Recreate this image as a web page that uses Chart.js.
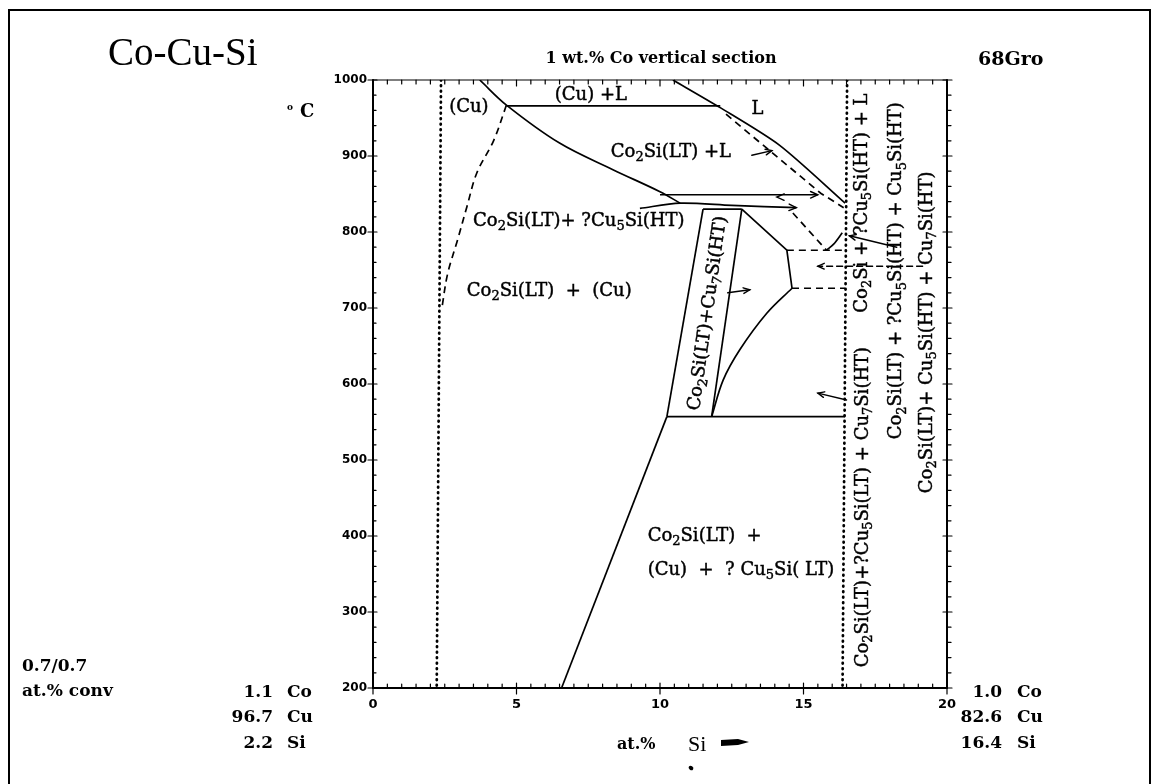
<!DOCTYPE html>
<html>
<head>
<meta charset="utf-8">
<script src="https://cdn.jsdelivr.net/npm/chart.js@4.4.1/dist/chart.umd.min.js"></script>
<style>
  html, body { margin: 0; padding: 0; background: #fff; }
  #wrap { width: 1161px; height: 784px; position: relative; }
</style>
</head>
<body>
<div id="wrap"><canvas id="c"></canvas></div>
<script>
// ---- axes ----
const tempTicks = [200, 300, 400, 500, 600, 700, 800, 900, 1000];   // °C
const siTicks = [0, 5, 10, 15, 20];                                 // at.% Si

// ---- phase boundaries, points are [at.% Si, °C] ----
const cuLiquidus   = [[3.72, 1000], [4.65, 967], [6.5, 917], [8.36, 882], [10.0, 853], [10.7, 838]];
const cuLTie       = [[4.65, 966], [12.1, 966]];
const liquidus     = [[10.45, 1000], [12.08, 964], [14.17, 914], [16.45, 838]];
const tie849       = [[10.0, 849], [15.5, 849]];
const line835      = [[9.3, 831], [10.7, 838], [12.5, 835], [14.75, 832]];
const bandTop      = [[11.5, 830], [12.85, 830]];
const bandLeft     = [[11.5, 830], [10.24, 557]];
const bandRight    = [[12.85, 830], [11.8, 557]];
const eutectoid    = [[10.24, 557], [16.44, 557]];
const lowBoundary  = [[6.57, 200], [10.24, 557]];
const cu7Boundary  = [[12.85, 830], [14.42, 776], [14.6, 726]];
const cu7Curve     = [[14.6, 726], [13.72, 693], [12.78, 645], [12.2, 605], [11.8, 557]];
const smallCurve   = [[15.8, 776], [16.05, 784], [16.35, 799]];
// dashed (uncertain) boundaries
const cuSolvus     = [[4.65, 967], [4.2, 920], [3.62, 878], [3.27, 833], [2.95, 790], [2.6, 745], [2.4, 700]];
const dashedLiq    = [[12.3, 955], [15.6, 851], [16.4, 832]];
const dashed776    = [[14.42, 776], [16.45, 776]];
const dashed726    = [[14.6, 726], [16.45, 726]];
const dashedDiag   = [[14.63, 825], [15.8, 776]];
// dotted: the two end compositions of the section
const section1     = [[2.37, 1000], [2.22, 200]];
const section2     = [[16.52, 1000], [16.36, 200]];

// pointer arrows [from, to]
const arrowsSolid  = [[[13.2, 901], [13.9, 907]], [[12.36, 720], [13.13, 724]], [[16.5, 579], [15.5, 588]], [[18.25, 780], [16.6, 795]]];
const arrowsDashed = [[[19.15, 755], [15.5, 755]]];
// arrow heads sitting on line ends [from, to]
const lineHeads    = [[[15.0, 849], [15.5, 849]], [[14.2, 833], [14.75, 832]], [[14.6, 846], [14.07, 846]]];

// ---- text ----
const fieldLabels  = ['(Cu)', '(Cu) +L', 'L', 'Co_2Si(LT) +L', 'Co_2Si(LT)+ ?Cu_5Si(HT)', 'Co_2Si(LT)  +  (Cu)', 'Co_2Si(LT)  +', '(Cu)  +  ? Cu_5Si( LT)'];
const verticalLabels = ['Co_2Si(LT)+Cu_7Si(HT)', 'Co_2Si + ?Cu_5Si(HT) + L', 'Co_2Si(LT)+?Cu_5Si(LT) + Cu_7Si(HT)', 'Co_2Si(LT) + ?Cu_5Si(HT) + Cu_5Si(HT)', 'Co_2Si(LT)+ Cu_5Si(HT) + Cu_7Si(HT)'];
const leftComp  = [['1.1', 'Co'], ['96.7', 'Cu'], ['2.2', 'Si']];
const rightComp = [['1.0', 'Co'], ['82.6', 'Cu'], ['16.4', 'Si']];

// ---- placement of the field labels (data coordinates) ----
const fieldPlace = [
  { x: 3.34, y: 964, align: 'center' },
  { x: 7.59, y: 980, align: 'center' },
  { x: 13.4, y: 962, align: 'center' },
  { x: 10.38, y: 905, align: 'center' },
  { x: 7.17, y: 814, align: 'center' },
  { x: 6.14, y: 722, align: 'center' },
  { x: 9.57, y: 400, align: 'left' },
  { x: 9.57, y: 355, align: 'left' }
];
const verticalPlace = [
  { x: 11.67, y: 693, rot: -82 },
  { x: 17.04, y: 838, rot: -90 },
  { x: 17.07, y: 438, rot: -90 },
  { x: 18.25, y: 749, rot: -90 },
  { x: 19.3, y: 668, rot: -90 }
];

const SERIF = '"DejaVu Serif", serif';

function runsOf(str) {           // "_c" marks a subscript character
  const runs = [];
  let i = 0;
  while (i < str.length) {
    if (str[i] === '_') { runs.push({ t: str[i + 1], sub: true }); i += 2; }
    else {
      let j = i;
      while (j < str.length && str[j] !== '_') j++;
      runs.push({ t: str.slice(i, j), sub: false });
      i = j;
    }
  }
  return runs;
}

function drawRich(ctx, str, x, y, size, align, weight) {
  const runs = runsOf(str);
  const w0 = weight || 'normal';
  const main = `${w0} ${size}px ${SERIF}`;
  const sub = `${w0} ${Math.round(size * 0.7)}px ${SERIF}`;
  let total = 0;
  runs.forEach(r => { ctx.font = r.sub ? sub : main; r.w = ctx.measureText(r.t).width; total += r.w; });
  let cx = align === 'center' ? x - total / 2 : align === 'right' ? x - total : x;
  ctx.textAlign = 'left';
  ctx.textBaseline = 'middle';
  ctx.lineWidth = 0.45;
  runs.forEach(r => {
    ctx.font = r.sub ? sub : main;
    const ty = y + (r.sub ? size * 0.3 : 0);
    ctx.fillText(r.t, cx, ty);
    ctx.strokeText(r.t, cx, ty);
    cx += r.w;
  });
}

function seg(ctx, x1, y1, x2, y2) {
  ctx.beginPath(); ctx.moveTo(x1, y1); ctx.lineTo(x2, y2); ctx.stroke();
}

function head(ctx, fx, fy, tx, ty, len) {
  const ang = Math.atan2(ty - fy, tx - fx);
  const a = 0.42;
  ctx.beginPath();
  ctx.moveTo(tx - len * Math.cos(ang - a), ty - len * Math.sin(ang - a));
  ctx.lineTo(tx, ty);
  ctx.lineTo(tx - len * Math.cos(ang + a), ty - len * Math.sin(ang + a));
  ctx.stroke();
}

const decor = {
  id: 'phaseDecor',
  afterDatasetsDraw(chart) {
    const { ctx, chartArea: a, scales: { x, y } } = chart;
    const X = v => x.getPixelForValue(v), Y = v => y.getPixelForValue(v);
    ctx.save();
    ctx.strokeStyle = '#000';
    ctx.fillStyle = '#000';
    ctx.lineCap = 'round';

    // plot box
    ctx.lineWidth = 2;
    seg(ctx, a.left, a.top, a.left, a.bottom);
    seg(ctx, a.left, a.bottom, a.right, a.bottom);
    seg(ctx, a.right, a.top, a.right, a.bottom);
    ctx.lineWidth = 1.2;
    seg(ctx, a.left, a.top, a.right, a.top);

    // tick marks: composition every 0.5, temperature every 20
    ctx.lineWidth = 1.2;
    for (let i = 0; i <= 40; i++) {
      const v = i * 0.5, px = X(v), major = i % 10 === 0;
      if (major) { seg(ctx, px, a.bottom - 5, px, a.bottom + 6); seg(ctx, px, a.top, px, a.top + 6); }
      else { seg(ctx, px, a.bottom, px, a.bottom - 4); seg(ctx, px, a.top, px, a.top + 4); }
    }
    for (let i = 0; i <= 40; i++) {
      const v = 200 + i * 20, py = Y(v), major = i % 5 === 0;
      if (major) { seg(ctx, a.left - 5, py, a.left + 4, py); seg(ctx, a.right - 4, py, a.right + 5, py); }
      else { seg(ctx, a.left, py, a.left + 3, py); seg(ctx, a.right, py, a.right + 4, py); }
    }

    // pointer arrows
    ctx.lineWidth = 1.4;
    arrowsSolid.forEach(([p, q]) => {
      seg(ctx, X(p[0]), Y(p[1]), X(q[0]), Y(q[1]));
      head(ctx, X(p[0]), Y(p[1]), X(q[0]), Y(q[1]), 7);
    });
    ctx.setLineDash([6, 4]);
    arrowsDashed.forEach(([p, q]) => seg(ctx, X(p[0]), Y(p[1]), X(q[0]), Y(q[1])));
    ctx.setLineDash([]);
    arrowsDashed.forEach(([p, q]) => head(ctx, X(p[0]), Y(p[1]), X(q[0]), Y(q[1]), 7));
    lineHeads.forEach(([p, q]) => head(ctx, X(p[0]), Y(p[1]), X(q[0]), Y(q[1]), 8));

    // field labels
    ctx.fillStyle = '#000';
    ctx.strokeStyle = '#000';
    fieldLabels.forEach((t, i) => {
      const p = fieldPlace[i];
      drawRich(ctx, t, X(p.x), Y(p.y), 18, p.align);
    });
    verticalLabels.forEach((t, i) => {
      const p = verticalPlace[i];
      ctx.save();
      ctx.translate(X(p.x), Y(p.y));
      ctx.rotate(p.rot * Math.PI / 180);
      drawRich(ctx, t, 0, 0, 18, 'center');
      ctx.restore();
    });
    ctx.restore();
  },
  afterDraw(chart) {
    const { ctx } = chart;
    ctx.save();
    ctx.fillStyle = '#000';
    ctx.strokeStyle = '#000';

    // outer frame
    ctx.lineWidth = 2;
    ctx.strokeRect(9, 10, 1141, 800);

    // headings
    ctx.textBaseline = 'alphabetic';
    ctx.textAlign = 'left';
    ctx.font = '39px "Liberation Serif", serif';
    ctx.fillText('Co-Cu-Si', 108, 65);
    ctx.font = `bold 16px ${SERIF}`;
    ctx.textAlign = 'center';
    ctx.fillText('1 wt.% Co vertical section', 661, 63);
    ctx.textAlign = 'left';
    ctx.font = `bold 19px ${SERIF}`;
    ctx.fillText('68Gro', 978, 65);

    // temperature unit
    ctx.font = `bold 9px ${SERIF}`;
    ctx.fillText('o', 287, 110);
    ctx.font = `bold 18px ${SERIF}`;
    ctx.fillText('C', 300, 117);

    // conversion note
    ctx.font = `bold 17px ${SERIF}`;
    ctx.textBaseline = 'middle';
    ctx.fillText('0.7/0.7', 22, 667);
    ctx.fillText('at.% conv', 22, 692);

    // end compositions
    const rows = [693, 718, 744];
    leftComp.forEach(([n, el], i) => {
      ctx.textAlign = 'right'; ctx.fillText(n, 273, rows[i]);
      ctx.textAlign = 'left'; ctx.fillText(el, 287, rows[i]);
    });
    rightComp.forEach(([n, el], i) => {
      ctx.textAlign = 'right'; ctx.fillText(n, 1002, rows[i]);
      ctx.textAlign = 'left'; ctx.fillText(el, 1017, rows[i]);
    });

    // axis title
    ctx.textAlign = 'left';
    ctx.font = `bold 16px ${SERIF}`;
    ctx.fillText('at.%', 617, 745);
    ctx.font = `22px "Liberation Serif", serif`;
    ctx.fillText('Si', 688, 745);
    ctx.beginPath();
    ctx.moveTo(721, 740); ctx.lineTo(738, 739); ctx.lineTo(749, 742);
    ctx.lineTo(738, 745); ctx.lineTo(721, 746); ctx.closePath(); ctx.fill();
    ctx.beginPath(); ctx.ellipse(691, 768, 2.5, 2, 0.6, 0, Math.PI * 2); ctx.fill();
    ctx.restore();
  }
};

const toXY = pts => pts.map(([x, y]) => ({ x, y }));
function ds(pts, opts) {
  return Object.assign({
    data: toXY(pts), showLine: true, pointRadius: 0, borderColor: '#000',
    borderWidth: 1.7, tension: 0, fill: false
  }, opts || {});
}
const DASH = { borderDash: [7, 5] };
const DOT = { borderDash: [0.5, 5], borderWidth: 2.8, borderCapStyle: 'round' };

new Chart(document.getElementById('c'), {
  type: 'scatter',
  data: {
    datasets: [
      ds(cuLiquidus, { tension: 0.35 }),
      ds(cuLTie),
      ds(liquidus, { tension: 0.25 }),
      ds(tie849),
      ds(line835, { tension: 0.3 }),
      ds(bandTop),
      ds(bandLeft),
      ds(bandRight),
      ds(eutectoid),
      ds(lowBoundary),
      ds(cu7Boundary),
      ds(cu7Curve, { tension: 0.35 }),
      ds(smallCurve, { tension: 0.3 }),
      ds(cuSolvus, Object.assign({ tension: 0.35 }, DASH)),
      ds(dashedLiq, DASH),
      ds(dashed776, DASH),
      ds(dashed726, DASH),
      ds(dashedDiag, DASH),
      ds(section1, DOT),
      ds(section2, DOT)
    ]
  },
  options: {
    responsive: true,
    maintainAspectRatio: false,
    animation: false,
    events: [],
    layout: { padding: { left: 0, right: 214, top: 80, bottom: 0 } },
    plugins: { legend: { display: false }, tooltip: { enabled: false } },
    scales: {
      x: {
        type: 'linear', min: siTicks[0], max: siTicks[siTicks.length - 1],
        afterFit: s => { s.height = 96; },
        afterBuildTicks: s => { s.ticks = siTicks.map(v => ({ value: v })); },
        grid: { display: false, drawTicks: false },
        border: { display: false },
        ticks: { color: '#000', padding: 9, font: { family: 'DejaVu Sans', size: 13, weight: 'bold' }, callback: v => String(v) }
      },
      y: {
        type: 'linear', min: tempTicks[0], max: tempTicks[tempTicks.length - 1],
        afterFit: s => { s.width = 373; },
        afterBuildTicks: s => { s.ticks = tempTicks.map(v => ({ value: v })); },
        grid: { display: false, drawTicks: false },
        border: { display: false },
        ticks: { color: '#000', padding: 6, font: { family: 'DejaVu Sans', size: 12, weight: 'bold' }, callback: v => String(v) }
      }
    }
  },
  plugins: [decor]
});
</script>
</body>
</html>
